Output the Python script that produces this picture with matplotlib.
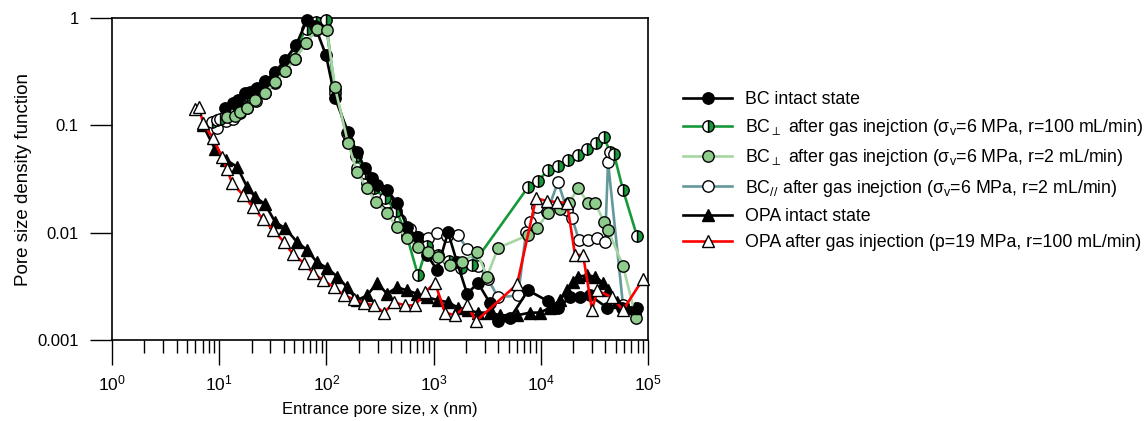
import matplotlib
matplotlib.use('Agg')
import matplotlib.pyplot as plt
from matplotlib.ticker import LogLocator, FixedLocator, FixedFormatter, NullLocator

plt.rcParams['font.family'] = ['Liberation Sans', 'DejaVu Sans']
plt.rcParams['mathtext.fontset'] = 'custom'
plt.rcParams['mathtext.rm'] = 'Liberation Sans'
plt.rcParams['mathtext.it'] = 'Liberation Sans:italic'
plt.rcParams['mathtext.bf'] = 'Liberation Sans:bold'

# ---------------- data ----------------
bc_int_x = [11.3, 13.4, 15.0, 17.4, 19.4, 22.5, 26.7, 33.2, 41.1, 52.0, 65.9, 78.3, 99.1, 120, 159, 193,
            229, 266, 297, 367, 456, 565, 700, 867, 1077, 1362, 1652, 2051, 2594, 3357, 3990, 5164, 7600,
            11670, 14460, 18700, 23200, 28770, 41490, 57180, 78910]
bc_int_y = [0.145, 0.161, 0.172, 0.200, 0.204, 0.223, 0.253, 0.314, 0.406, 0.56, 0.96, 0.84, 0.45, 0.18,
            0.087, 0.056, 0.040, 0.032, 0.028, 0.025, 0.019, 0.0113, 0.0091, 0.0062, 0.0045, 0.0101, 0.0053,
            0.0027, 0.0034, 0.0022, 0.0015, 0.0016, 0.0029, 0.0023, 0.0020, 0.0025, 0.0025, 0.0026, 0.0020,
            0.0020, 0.0020]

bcg_x = [8.57, 9.54, 10.2, 11.5, 13.5, 15.5, 18.0, 22.0, 27.0, 33.0, 41.0, 52.0, 66.0, 80.0, 99.0, 120,
         155, 190, 230, 280, 350, 450, 560, 715, 870, 1100, 1400, 1800, 2300, 7600, 9420, 11670, 14460,
         17930, 22230, 26970, 32740, 38890, 44230, 48150, 58450, 78910]
bcg_y = [0.107, 0.112, 0.115, 0.125, 0.150, 0.165, 0.190, 0.220, 0.260, 0.310, 0.400, 0.550, 0.800, 0.920,
         0.950, 0.200, 0.085, 0.052, 0.036, 0.026, 0.021, 0.016, 0.0095, 0.0040, 0.0075, 0.0062, 0.0054,
         0.0047, 0.0050, 0.0266, 0.0303, 0.0383, 0.0418, 0.0475, 0.0529, 0.060, 0.068, 0.078, 0.056, 0.054,
         0.025, 0.0093]

bcl_x = [11.8, 14.0, 15.6, 18.2, 21.6, 26.7, 33.2, 41.1, 50.9, 64.5, 81.7, 101, 120, 159, 193, 239, 290,
         367, 456, 565, 715, 887, 1099, 1422, 1841, 2541, 3148, 3990, 7600, 9220, 11670, 15100, 18330,
         22230, 27540, 32060, 38890, 42360, 58450, 77250]
bcl_y = [0.119, 0.122, 0.133, 0.145, 0.172, 0.200, 0.253, 0.32, 0.42, 0.585, 0.79, 0.77, 0.227, 0.0685,
         0.037, 0.026, 0.0193, 0.0152, 0.0112, 0.0089, 0.0074, 0.0066, 0.0059, 0.0050, 0.0053, 0.0066,
         0.0039, 0.0072, 0.0095, 0.011, 0.0153, 0.0166, 0.0189, 0.0261, 0.0189, 0.0189, 0.0126, 0.0106,
         0.0049, 0.0016]

bcp_x = [9.54, 11.6, 13.5, 15.5, 18.0, 22.0, 27.0, 33.0, 41.0, 51.0, 64.0, 80.0, 100, 120, 159, 193, 239,
         303, 367, 437, 486, 603, 715, 887, 1077, 1334, 1690, 2051, 2594, 3214, 3990, 6130, 7280, 7930,
         9220, 11430, 14460, 17550, 19540, 22700, 27540, 33450, 39720, 42360, 58450]
bcp_y = [0.094, 0.110, 0.115, 0.130, 0.145, 0.170, 0.200, 0.250, 0.320, 0.420, 0.580, 0.780, 0.800, 0.220,
         0.070, 0.040, 0.029, 0.0224, 0.0193, 0.0163, 0.0131, 0.0108, 0.0091, 0.0089, 0.0099, 0.0093,
         0.0095, 0.0071, 0.0049, 0.0037, 0.0025, 0.0026, 0.0101, 0.0126, 0.0173, 0.0156, 0.0296, 0.0163,
         0.0137, 0.0085, 0.0085, 0.0089, 0.0082, 0.0455, 0.0021]

opa_int_x = [7.06, 9.14, 11.5, 14.7, 18.2, 21.6, 26.7, 33.2, 41.1, 53.2, 65.9, 81.7, 101, 126, 156, 193,
             239, 297, 367, 456, 565, 700, 867, 1099, 1362, 1690, 2094, 2594, 3357, 4160, 6000, 7930, 9830,
             12190, 15100, 17550, 19970, 22230, 26970, 32060, 38020, 42360, 51400, 63660, 75650]
opa_int_y = [0.100, 0.060, 0.048, 0.041, 0.0266, 0.0215, 0.0185, 0.0126, 0.0110, 0.0082, 0.0069, 0.0053,
             0.0047, 0.0039, 0.0031, 0.00235, 0.0026, 0.0034, 0.0027, 0.0031, 0.0029, 0.0027, 0.0025,
             0.00235, 0.00225, 0.0020, 0.0019, 0.0018, 0.0018, 0.0017, 0.0017, 0.0018, 0.0018, 0.0020,
             0.00235, 0.0029, 0.0035, 0.0039, 0.0040, 0.0039, 0.0034, 0.0029, 0.00225, 0.0020, 0.0020]

opa_aft_x = [5.95, 6.48, 7.06, 8.75, 10.6, 11.8, 13.2, 16.7, 20.7, 25.6, 31.8, 40.2, 48.8, 61.8, 75.0, 93.0,
             118, 146, 181, 224, 278, 345, 427, 541, 670, 832, 1031, 1277, 1585, 2051, 2488, 6000, 9020,
             11430, 14160, 17550, 20840, 24770, 30040, 33450, 46130, 58450, 89780]
opa_aft_y = [0.142, 0.148, 0.105, 0.076, 0.051, 0.039, 0.029, 0.0224, 0.0173, 0.0134, 0.0106, 0.0082,
             0.0063, 0.0052, 0.0042, 0.0036, 0.0031, 0.0026, 0.0024, 0.0022, 0.0021, 0.0018, 0.00225,
             0.0021, 0.0021, 0.0028, 0.0034, 0.0018, 0.0017, 0.0021, 0.0015, 0.0033, 0.021, 0.0197,
             0.0193, 0.0189, 0.0062, 0.0062, 0.0019, 0.0029, 0.0025, 0.0019, 0.0037]

labels = [
    'BC intact state',
    r'BC$_{\perp}$ after gas inejction (σ$_\mathregular{v}$=6 MPa, r=100 mL/min)',
    r'BC$_{\perp}$ after gas inejction (σ$_\mathregular{v}$=6 MPa, r=2 mL/min)',
    r'BC$_{//}$ after gas inejction (σ$_\mathregular{v}$=6 MPa, r=2 mL/min)',
    'OPA intact state',
    'OPA after gas injection (p=19 MPa, r=100 mL/min)',
]

c_dark = '#17993a'
c_light_line = '#a6d6a2'
c_light_face = '#8ecb8c'
c_teal = '#64999c'

fig = plt.figure(figsize=(11.48, 4.21), dpi=100)
ax = fig.add_axes([0.0976, 0.1924, 0.4669, 0.7646])

lw = 1.9
common = dict(lw=lw, mec='black', mew=1.0, clip_on=False)

h_par, = ax.plot(bcp_x, bcp_y, color=c_teal, marker='o', ms=8.2, mfc='white', label=labels[3], zorder=2, **common)
h_dark, = ax.plot(bcg_x, bcg_y, color=c_dark, marker='o', ms=8.2, mfc=c_dark, markerfacecoloralt='white',
                  fillstyle='right', label=labels[1], zorder=3, **common)
h_int, = ax.plot(bc_int_x, bc_int_y, color='black', marker='o', ms=8.2, mfc='black', label=labels[0], zorder=4, **common)
h_light, = ax.plot(bcl_x, bcl_y, color=c_light_line, marker='o', ms=8.2, mfc=c_light_face, label=labels[2], zorder=5, **common)
h_opai, = ax.plot(opa_int_x, opa_int_y, color='black', marker='^', ms=8.8, mfc='black', label=labels[4], zorder=6, **common)
h_opaa, = ax.plot(opa_aft_x, opa_aft_y, color='red', marker='^', ms=8.8, mfc='white', label=labels[5], zorder=7, **common)

ax.set_xscale('log')
ax.set_yscale('log')
ax.set_xlim(1, 1e5)
ax.set_ylim(0.001, 1)

ax.xaxis.set_major_locator(LogLocator(base=10, numticks=10))
ax.xaxis.set_minor_locator(LogLocator(base=10, subs=range(2, 10), numticks=10))
ax.yaxis.set_major_locator(FixedLocator([0.001, 0.01, 0.1, 1]))
ax.yaxis.set_major_formatter(FixedFormatter(['0.001', '0.01', '0.1', '1']))
ax.yaxis.set_minor_locator(NullLocator())

ax.tick_params(axis='x', which='major', direction='out', length=18, width=1.0, labelsize=12.5, pad=6)
ax.tick_params(axis='x', which='minor', direction='out', length=9, width=1.0)
ax.tick_params(axis='y', which='major', direction='out', length=16, width=1.0, labelsize=12, pad=8)
for s in ax.spines.values():
    s.set_linewidth(1.2)

ax.set_xlabel('Entrance pore size, x (nm)', fontsize=12, labelpad=6)
ax.set_ylabel('Pore size density function', fontsize=13.5, labelpad=4)

handles = [h_int, h_dark, h_light, h_par, h_opai, h_opaa]
fig.legend(handles, labels, loc='upper left', bbox_to_anchor=(0.595, 0.784), frameon=False,
           fontsize=12.8, handlelength=2.75, numpoints=1, labelspacing=0.52, handletextpad=0.75,
           borderaxespad=0, borderpad=0)

fig.savefig('out.png', dpi=100)
